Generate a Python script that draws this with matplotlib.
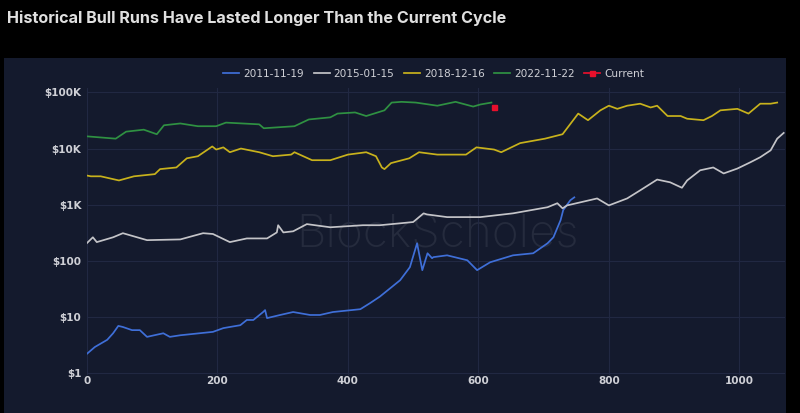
import numpy as np
import matplotlib.pyplot as plt
from matplotlib.patches import Rectangle
from matplotlib.ticker import FixedLocator, FixedFormatter

# days since cycle start / price in USD
days_2011 = [0, 12, 31, 40, 48, 55, 69, 81, 92, 117, 127, 143, 193, 209, 219, 235, 245, 255,
             270, 273, 276, 296, 316, 342, 357, 377, 419, 434, 449, 465, 480, 495, 506, 514,
             522, 529, 531, 552, 583, 598, 618, 653, 684, 706, 715, 726, 730, 741, 747]
price_2011 = [2.2, 2.9, 3.9, 5.1, 6.9, 6.6, 5.8, 5.8, 4.4, 5.1, 4.4, 4.7, 5.4, 6.3, 6.6, 7.1, 8.8, 8.8,
              12.2, 13.2, 9.5, 10.8, 12.2, 10.8, 10.8, 12.2, 13.7, 17.6, 23, 32.5, 45, 77, 205, 68,
              136, 111, 116, 125, 102, 68, 94, 125, 136, 205, 262, 530, 800, 1200, 1350]

days_2015 = [0, 9, 15, 40, 55, 92, 143, 178, 193, 219, 245, 276, 291, 293, 301, 316, 337, 373,
             423, 449, 480, 500, 516, 521, 552, 603, 653, 706, 721, 729, 736, 782, 800, 828,
             848, 874, 894, 912, 920, 940, 960, 976, 997, 1017, 1032, 1048, 1058, 1068]
price_2015 = [207, 262, 215, 262, 310, 233, 240, 310, 300, 215, 250, 250, 320, 430, 320, 335, 450, 395,
              430, 430, 465, 490, 700, 670, 600, 600, 700, 900, 1060, 860, 970, 1290, 970, 1290,
              1800, 2800, 2500, 2000, 2700, 4100, 4600, 3600, 4400, 5700, 7000, 9300, 15000, 19000]

days_2018 = [0, 6, 21, 49, 72, 104, 112, 137, 153, 170, 192, 198, 209, 219, 236, 264, 285, 313,
             318, 345, 373, 400, 428, 443, 452, 456, 466, 494, 509, 537, 581, 597, 624, 635,
             664, 702, 729, 753, 768, 787, 800, 813, 828, 848, 864, 874, 890, 910, 920, 945,
             958, 971, 997, 1014, 1032, 1048, 1058]
price_2018 = [3300, 3200, 3200, 2700, 3200, 3500, 4300, 4600, 6700, 7300, 10900, 9600, 10500, 8600,
              10000, 8600, 7300, 7800, 8600, 6200, 6200, 7800, 8600, 7300, 4600, 4300, 5500, 6700,
              8600, 7800, 7800, 10500, 9600, 8600, 12500, 15000, 18000, 42000, 32000, 48000, 58000,
              51000, 58000, 63000, 54000, 58000, 38000, 38000, 34000, 32000, 38000, 48000, 51000,
              42000, 63000, 63000, 66000]

days_2022 = [0, 44, 60, 87, 107, 118, 143, 170, 198, 213, 264, 271, 318, 340, 373, 384, 411, 428,
             456, 467, 482, 504, 537, 565, 592, 603, 620]
price_2022 = [16500, 15000, 20000, 21700, 18000, 26000, 28000, 25000, 25000, 29000, 27000, 23000,
              25000, 33000, 36000, 42000, 44000, 38000, 48000, 66000, 68000, 66000, 58000, 68000,
              56000, 61000, 66000]

current_day = [624]
current_price = [56000]

y_ticks = [1, 10, 100, 1000, 10000, 100000]
y_labels = ['$1', '$10', '$100', '$1K', '$10K', '$100K']
x_ticks = [0, 200, 400, 600, 800, 1000]

panel = '#141a2d'
grid_c = '#212842'
txt = '#cfd0d6'

fig = plt.figure(figsize=(8, 4.13), dpi=100, facecolor='black')
fig.patches.append(Rectangle((4 / 800, 0), 782 / 800, 355 / 413, transform=fig.transFigure,
                             facecolor=panel, edgecolor='none', zorder=-10))

fig.text(7 / 800, 1 - 18 / 413, 'Historical Bull Runs Have Lasted Longer Than the Current Cycle',
         color='#e0e0e0', fontsize=11.6, fontweight='bold', family=['Inter', 'DejaVu Sans'],
         va='center', ha='left')

ax = fig.add_axes([87 / 800, 38 / 413, 698 / 800, 287 / 413])
ax.set_facecolor(panel)
# faint watermark
ax.text(0.502, 0.49, 'BlockScholes', transform=ax.transAxes, ha='center', va='center',
        fontsize=33, color='#252b3d', family=['Inter', 'DejaVu Sans'], fontweight='light', zorder=1)

ax.plot(days_2011, price_2011, color='#3f6fd8', lw=1.25, label='2011-11-19', zorder=3)
ax.plot(days_2015, price_2015, color='#c4c4c8', lw=1.25, label='2015-01-15', zorder=3)
ax.plot(days_2018, price_2018, color='#c8b21c', lw=1.25, label='2018-12-16', zorder=3)
ax.plot(days_2022, price_2022, color='#2f9142', lw=1.25, label='2022-11-22', zorder=3)
ax.plot(current_day, current_price, color='#e8102c', marker='s', ms=3.6, lw=1.25,
        label='Current', zorder=4)

ax.set_yscale('log')
ax.set_ylim(0.92, 1.2e5)
ax.set_xlim(0, 1070)
ax.yaxis.set_major_locator(FixedLocator(y_ticks))
ax.yaxis.set_major_formatter(FixedFormatter(y_labels))
ax.yaxis.set_minor_locator(FixedLocator([]))
ax.set_xticks(x_ticks)
ax.grid(True, color=grid_c, lw=0.8, zorder=0)
for s in ax.spines.values():
    s.set_visible(False)
ax.tick_params(length=0, colors=txt, labelsize=7.5)
ax.tick_params(axis='x', pad=1)
ax.tick_params(axis='y', pad=4)
for lab in ax.get_xticklabels() + ax.get_yticklabels():
    lab.set_fontweight('bold')

leg = fig.legend(loc='center', bbox_to_anchor=(434 / 800, 1 - 74 / 413), ncol=5, frameon=False,
                 fontsize=7.6, labelcolor=txt, handlelength=1.5, handletextpad=0.4,
                 columnspacing=0.9)

fig.savefig('out.png', dpi=100, facecolor='black')
